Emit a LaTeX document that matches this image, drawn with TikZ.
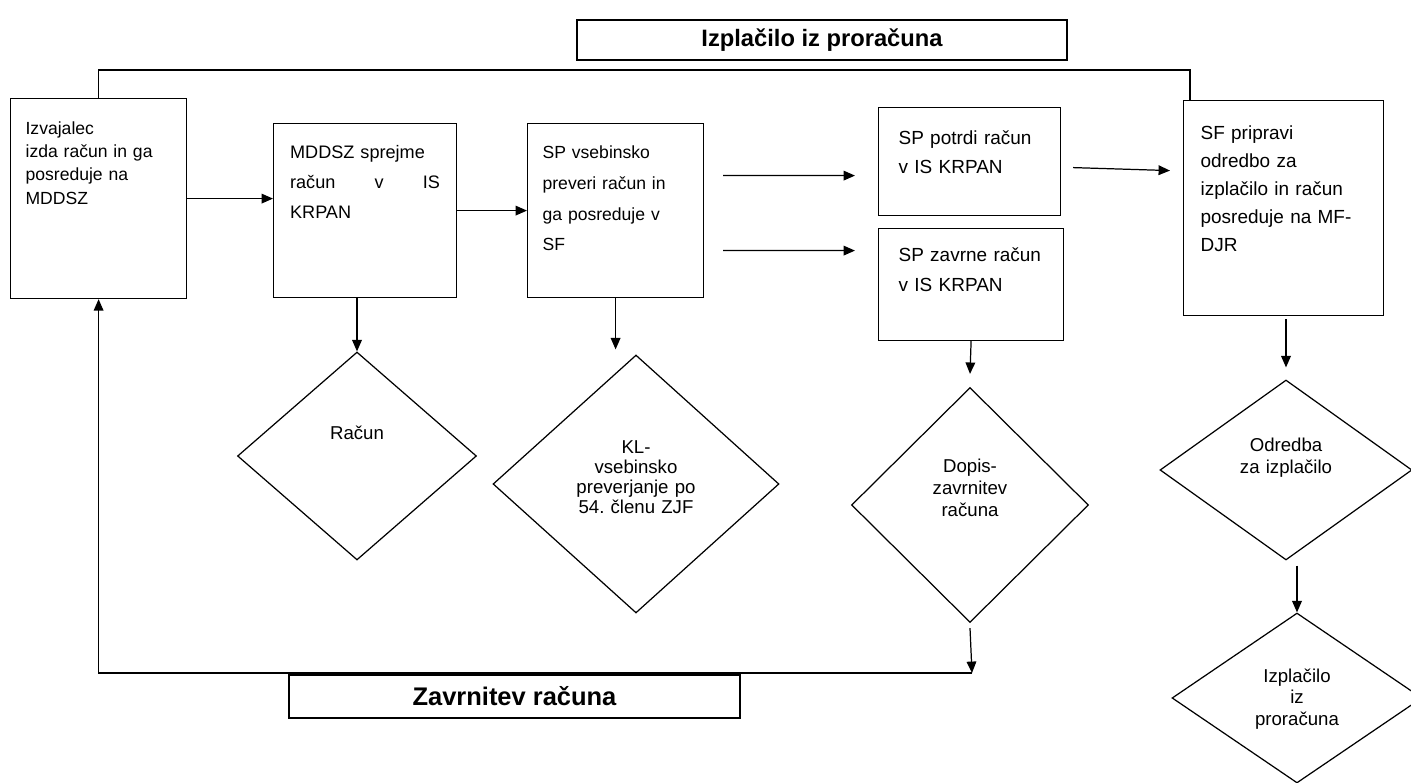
\documentclass[tikz,border=0pt]{standalone}
\usepackage{fontspec}
\setmainfont{Liberation Sans}
\usetikzlibrary{shapes.geometric,arrows.meta}

\tikzset{
    korak/.style={draw, anchor=north west, inner ysep=0pt, align=left},
    romb/.style={draw, diamond, inner sep=0pt, align=center},
    naslovni/.style={draw, inner sep=0pt, font=\bfseries},
}

\begin{document}
\begin{tikzpicture}[x=0.02cm, y=-0.02cm, line width=0.7pt, >={Triangle[length=6.5pt,width=5.5pt]}]
    \useasboundingbox (0,0) rectangle (1411,783);

    \node [naslovni, minimum width=9.8cm, minimum height=0.8cm, font=\bfseries\fontsize{13.5}{16}\selectfont] (naslov) at (822,40) {Izplačilo iz proračuna};

    \node [korak, text width=2.92cm, inner xsep=0.3cm, text height=0.72cm, text depth=3.28cm, font=\fontsize{10}{13.2}\selectfont] (izvajalec) at (10,98) {Izvajalec\\izda račun in ga\\posreduje na\\MDDSZ};
    \node [korak, text width=3.0cm, inner xsep=0.33cm, text height=0.7cm, text depth=2.78cm, font=\fontsize{10.3}{17}\selectfont] (mddsz) at (273,123) {MDDSZ sprejme\\račun\hfill v\hfill IS\\KRPAN};
    \node [korak, text width=2.92cm, inner xsep=0.3cm, text height=0.7cm, text depth=2.78cm, font=\fontsize{10}{17.5}\selectfont] (sp) at (527,123) {SP vsebinsko\\preveri račun in\\ga posreduje v\\SF};
    \node [korak, text width=2.84cm, inner xsep=0.4cm, text height=0.74cm, text depth=1.42cm, font=\fontsize{10.8}{16.5}\selectfont] (potrdi) at (878,107) {SP potrdi račun\\v IS KRPAN};
    \node [korak, text width=2.9cm, inner xsep=0.4cm, text height=0.66cm, text depth=1.58cm, font=\fontsize{10.8}{17}\selectfont] (zavrne) at (878,228) {SP zavrne račun\\v IS KRPAN};
    \node [korak, text width=3.32cm, inner xsep=0.34cm, text height=0.78cm, text depth=3.52cm, font=\fontsize{10.8}{15.9}\selectfont] (sf) at (1183,100) {SF pripravi\\odredbo za\\izplačilo in račun\\posreduje na MF-\\DJR};

    \node [romb, minimum width=4.78cm, minimum height=4.16cm, text width=1.2cm, text height=0.25cm, text depth=0.89cm, font=\fontsize{10.6}{12}\selectfont] (racun) at (357,456) {Račun};
    \node [romb, minimum width=5.72cm, minimum height=5.16cm, text width=2.4cm, text height=0.3cm, text depth=1.54cm, font=\fontsize{10.6}{11.4}\selectfont] (kl) at (636,484) {KL-\\vsebinsko\\preverjanje po\\54.\ členu ZJF};
    \node [romb, minimum width=4.74cm, minimum height=4.7cm, text width=2.0cm, text height=0.3cm, text depth=1.62cm, font=\fontsize{10.6}{12.8}\selectfont] (dopis) at (970,505) {Dopis-\\zavrnitev\\računa};
    \node [romb, minimum width=5.04cm, minimum height=3.6cm, text width=2.2cm, text height=0.3cm, text depth=1.02cm, font=\fontsize{10.6}{12}\selectfont] (odredba) at (1286,470) {Odredba\\za izplačilo};
    \node [romb, minimum width=5.0cm, minimum height=3.4cm, text width=1.8cm, text height=0.3cm, text depth=0.94cm, font=\fontsize{10.6}{12.3}\selectfont] (izplacilo) at (1297,698) {Izplačilo\\iz\\proračuna};

    \node [naslovni, minimum width=9.02cm, minimum height=0.86cm, font=\bfseries\fontsize{14.5}{17}\selectfont] (zavrnitev) at (514.5,696.5) {Zavrnitev računa};
    \coordinate (vrnitev) at (972,673);

    \draw (izvajalec.north) -- ++(0,-28) -| ([xshift=0.14cm]sf.north west);
    \draw [->] (izvajalec.east) -- (izvajalec.east -| mddsz.west);
    \draw [->] (mddsz.east) -- (sp.west);
    \draw [->] ([shift={(19,-35)}]sp.east) -- ([shift={(-23,14)}]potrdi.west);
    \draw [->] ([shift={(19,40)}]sp.east) -- ([shift={(-23,-34)}]zavrne.west);
    \draw [->] ([shift={(12,6)}]potrdi.east) -- ([shift={(-13,-37.5)}]sf.west);
    \draw [->] (mddsz.south -| racun.north) -- (racun.north);
    \draw [->] (sp.south) -- ([yshift=0.1cm]sp.south |- kl.north);
    \draw [->] (zavrne.south) -- ([yshift=0.26cm]dopis.north);
    \draw [->] ([yshift=-0.06cm]sf.south -| odredba.north) -- ([yshift=0.24cm]odredba.north);
    \draw [->] ([yshift=-0.1cm]odredba.south -| izplacilo.north) -- (izplacilo.north);
    \draw [->] ([yshift=-0.1cm]dopis.south) -- (vrnitev);
    \draw [->] (vrnitev) -| (izvajalec.south);
\end{tikzpicture}
\end{document}
